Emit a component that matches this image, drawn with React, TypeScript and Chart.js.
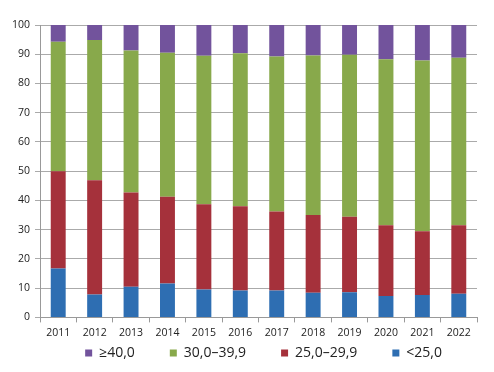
import React, { useEffect, useRef } from "react";
import { Chart, registerables } from "chart.js";

Chart.register(...registerables);

const years = ["2011", "2012", "2013", "2014", "2015", "2016", "2017", "2018", "2019", "2020", "2021", "2022"];
const under25 = [16.7, 7.8, 10.5, 11.6, 9.5, 9.2, 9.2, 8.4, 8.6, 7.3, 7.7, 8.1];
const from25to29 = [33.3, 39.1, 32.2, 29.7, 29.2, 28.8, 27.0, 26.6, 25.8, 24.2, 21.8, 23.4];
const from30to39 = [44.3, 48.0, 48.6, 49.2, 50.8, 52.3, 53.0, 54.6, 55.4, 56.8, 58.4, 57.3];
const over40 = [5.7, 5.1, 8.7, 9.5, 10.5, 9.7, 10.8, 10.4, 10.2, 11.7, 12.1, 11.2];
const seriesLabels = ["<25,0", "25,0\u201329,9", "30,0\u201339,9", "\u226540,0"];
const yTicks = [0, 10, 20, 30, 40, 50, 60, 70, 80, 90, 100];

const FONT = "'Open Sans', 'Noto Sans', sans-serif";
const LEGEND_SHIFT = 32;

const legendTweak = {
  id: "legendTweak",
  afterInit(chart: any) {
    const lg = chart.legend;
    if (!lg || lg.__tweaked) return;
    lg.__tweaked = true;
    const origFit = lg.fit.bind(lg);
    lg.fit = function () {
      origFit();
      this.height = Math.max(0, this.height - LEGEND_SHIFT);
    };
    const origDraw = lg.draw.bind(lg);
    lg.draw = function () {
      this.top -= LEGEND_SHIFT;
      origDraw();
      this.top += LEGEND_SHIFT;
    };
  },
};

export default function App() {
  const ref = useRef<HTMLCanvasElement>(null);
  useEffect(() => {
    if (!ref.current) return;
    const chart = new Chart(ref.current, {
      type: "bar",
      data: {
        labels: years,
        datasets: [
          { label: seriesLabels[0], data: under25, backgroundColor: "#2E6EB2" },
          { label: seriesLabels[1], data: from25to29, backgroundColor: "#A5313B" },
          { label: seriesLabels[2], data: from30to39, backgroundColor: "#88A94B" },
          { label: seriesLabels[3], data: over40, backgroundColor: "#72539C" },
        ],
      },
      plugins: [legendTweak],
      options: {
        animation: false,
        responsive: true,
        maintainAspectRatio: false,
        datasets: { bar: { categoryPercentage: 1, barPercentage: 0.41 } },
        layout: { padding: { top: 25, right: 17, left: 7, bottom: 2 } },
        plugins: {
          tooltip: { enabled: false },
          legend: {
            position: "bottom",
            align: "end",
            reverse: true,
            labels: {
              boxWidth: 7,
              boxHeight: 7,
              padding: 35,
              color: "#222",
              font: { family: FONT, size: 14 },
            },
          },
        },
        scales: {
          x: {
            stacked: true,
            grid: {
              offset: true,
              drawOnChartArea: false,
              drawTicks: true,
              tickLength: 5,
              color: "#999",
            },
            border: { color: "#999" },
            ticks: {
              color: "#222",
              padding: 4,
              maxRotation: 0,
              font: { family: FONT, size: 10.5 },
            },
          },
          y: {
            stacked: true,
            min: 0,
            max: 100,
            afterBuildTicks: (axis: any) => {
              axis.ticks = yTicks.map((v) => ({ value: v }));
            },
            grid: { color: "#AAAAAA", tickLength: 5 },
            border: { color: "#999" },
            ticks: {
              color: "#222",
              padding: 5,
              font: { family: FONT, size: 10.5 },
            },
          },
        },
      },
    });
    return () => chart.destroy();
  }, []);
  return (
    <div style={{ position: "fixed", left: 0, top: 0, width: 494, height: 372, background: "#fff" }}>
      <canvas ref={ref} />
    </div>
  );
}
